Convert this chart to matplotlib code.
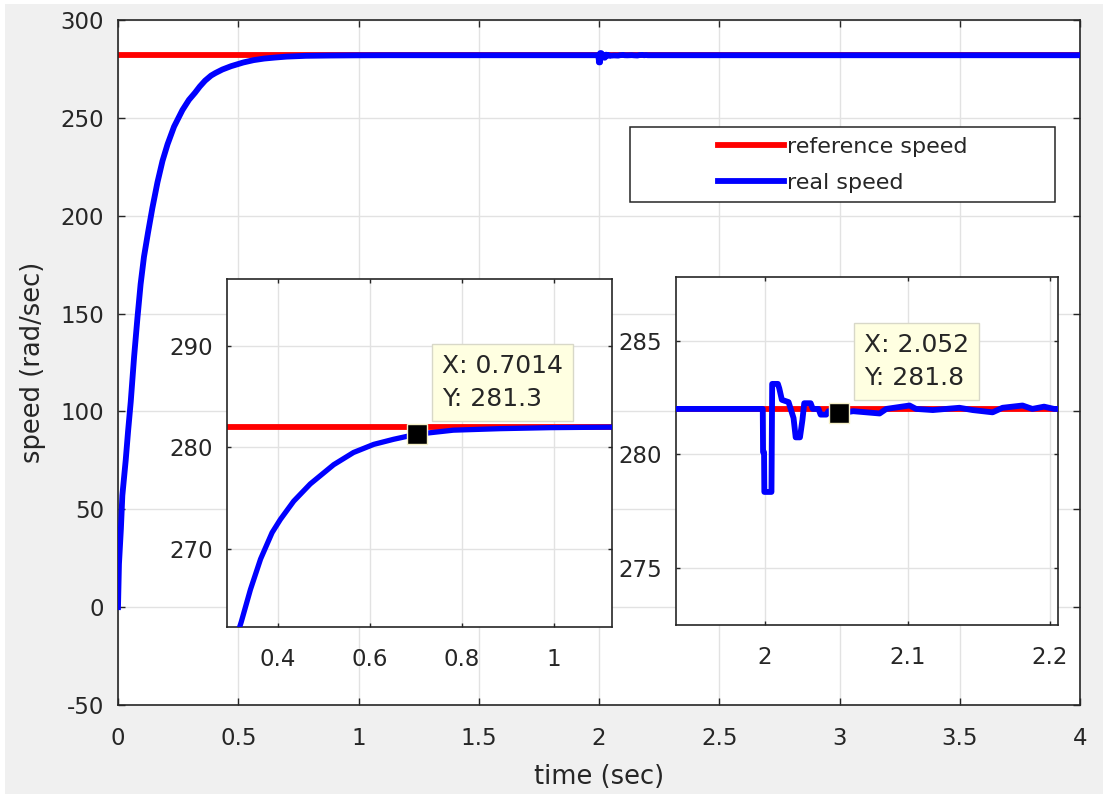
import matplotlib
matplotlib.use("Agg")
import matplotlib.pyplot as plt
from matplotlib.patches import Rectangle
from matplotlib.ticker import FuncFormatter

plt.rcParams["font.family"] = ["DejaVu Sans"]
plt.rcParams["axes.unicode_minus"] = False

# Speed command (rad/sec)
ref_time = [0.0, 4.0]
ref_speed = [282.0, 282.0]

# Measured rotor speed (rad/sec): start-up, steady state, load step at t = 2 s
real_time = [
    0.000, 0.004, 0.012, 0.018, 0.032, 0.042, 0.053, 0.067, 0.081, 0.094,
    0.108, 0.125, 0.143, 0.164, 0.185, 0.206, 0.233, 0.268, 0.295,
    0.320, 0.340, 0.362, 0.387, 0.405, 0.434, 0.470, 0.521, 0.564, 0.608,
    0.651, 0.7014, 0.781, 0.883, 0.992, 1.122,
    1.300, 1.500, 1.700, 1.900, 1.9984,
    1.9986, 1.9993, 1.9995, 2.0045, 2.0050, 2.0090, 2.0100, 2.0118, 2.0165,
    2.0180, 2.0200, 2.0215, 2.0245, 2.0262, 2.0275, 2.0320, 2.0335, 2.0375,
    2.0390, 2.0430, 2.0445, 2.052, 2.0618, 2.0804, 2.0851, 2.1014, 2.1060,
    2.1177, 2.1364, 2.1457, 2.1597, 2.1667, 2.1807, 2.1876, 2.1958, 2.2028,
    2.500, 3.000, 3.500, 4.000,
]
real_speed = [
    0.0, 22.0, 40.0, 57.0, 75.0, 90.0, 105.0, 128.0, 148.0, 165.0,
    179.0, 191.5, 204.0, 217.0, 228.0, 236.5, 245.5, 254.0, 259.2,
    262.8, 266.0, 269.0, 271.6, 272.9, 274.7, 276.4, 278.3, 279.5, 280.3,
    280.8, 281.3, 281.7, 281.85, 281.95, 282.0,
    282.0, 282.0, 282.0, 282.0, 282.0,
    280.1, 280.1, 278.35, 278.35, 283.1, 283.1, 282.9, 282.4, 282.3,
    282.0, 281.6, 280.75, 280.75, 281.5, 282.25, 282.25, 282.0, 282.0,
    281.75, 281.75, 281.9, 281.8, 281.9, 281.8, 282.0, 282.15, 282.0,
    281.95, 282.05, 281.95, 281.85, 282.05, 282.15, 282.0, 282.1, 282.0,
    282.0, 282.0, 282.0, 282.0,
]

# Data-cursor readouts
tip_time = [0.7014, 2.052]
tip_speed = [281.3, 281.8]

main_xticks = [0, 0.5, 1, 1.5, 2, 2.5, 3, 3.5, 4]
main_yticks = [-50, 0, 50, 100, 150, 200, 250, 300]
zoom1_xticks = [0.4, 0.6, 0.8, 1.0]
zoom1_yticks = [270, 280, 290]
zoom2_xticks = [2.0, 2.1, 2.2]
zoom2_yticks = [275, 280, 285]

TXT = "#262626"
GRID = "#e2e2e2"
RED = "#ff0000"
BLUE = "#0000ff"
TIP_FACE = "#ffffe1"

W, H = 1103, 794
fig = plt.figure(figsize=(W / 100, H / 100), dpi=100, facecolor="#f0f0f0")

# thin white strip along the top and left edge of the window
fig.patches.append(Rectangle((0, 1 - 4 / H), 1, 4 / H, transform=fig.transFigure,
                             facecolor="white", edgecolor="none", zorder=0))
fig.patches.append(Rectangle((0, 0), 5 / W, 1, transform=fig.transFigure,
                             facecolor="white", edgecolor="none", zorder=0))


def px_rect(x0, y0, x1, y1):
    return [x0 / W, (H - y1) / H, (x1 - x0) / W, (y1 - y0) / H]


def style_axes(ax, xticks, yticks, xlim, ylim, ticklen, xpad, ypad, fmt):
    ax.set_xlim(*xlim)
    ax.set_ylim(*ylim)
    ax.set_xticks(xticks)
    ax.set_yticks(yticks)
    ax.xaxis.set_major_formatter(FuncFormatter(fmt))
    ax.yaxis.set_major_formatter(FuncFormatter(fmt))
    ax.grid(True, color=GRID, linewidth=1.0)
    ax.set_axisbelow(True)
    ax.set_facecolor("white")
    for sp in ax.spines.values():
        sp.set_color(TXT)
        sp.set_linewidth(1.2)
    ax.tick_params(direction="in", top=True, right=True, length=ticklen,
                   width=1.0, color=TXT, labelcolor=TXT, labelsize=16.5)
    ax.tick_params(axis="x", pad=xpad)
    ax.tick_params(axis="y", pad=ypad)


gfmt = lambda v, pos: "%g" % v

# Main axes
ax = fig.add_axes(px_rect(118, 20, 1080, 705))
style_axes(ax, main_xticks, main_yticks, (0, 4), (-50, 300), 5, 16, 10, gfmt)
ref_line, = ax.plot(ref_time, ref_speed, color=RED, linewidth=4.2, zorder=2)
real_line, = ax.plot(real_time, real_speed, color=BLUE, linewidth=4.2, zorder=3)
ax.set_xlabel("time (sec)", fontsize=18.5, color=TXT, labelpad=10)
ax.set_ylabel("speed (rad/sec)", fontsize=18.5, color=TXT, labelpad=10)

# Legend with a centred, boxed layout
ax.add_patch(Rectangle((0.5322, 0.7343), 0.4418, 0.1095, transform=ax.transAxes,
                       facecolor="white", edgecolor=TXT, linewidth=1.1, zorder=4))
leg = ax.legend([ref_line, real_line], ["reference speed", "real speed"],
                loc="center", bbox_to_anchor=(0.7531, 0.789), frameon=False,
                handlelength=3.0, handletextpad=0.1, labelspacing=0.72,
                fontsize=16, borderpad=0.0)
leg.set_zorder(5)
for t in leg.get_texts():
    t.set_color(TXT)

# Zoom on the start-up transient
ax1 = fig.add_axes(px_rect(227, 279, 612, 627))
style_axes(ax1, zoom1_xticks, zoom1_yticks, (0.289, 1.126), (262.3, 296.6), 3, 15, 10, gfmt)
ax1.plot(ref_time, ref_speed, color=RED, linewidth=4.2, zorder=2)
ax1.plot(real_time, real_speed, color=BLUE, linewidth=3.8, zorder=3)

# Zoom on the load disturbance
ax2 = fig.add_axes(px_rect(676, 277, 1058, 625))
style_axes(ax2, zoom2_xticks, zoom2_yticks, (1.9375, 2.2056), (272.5, 287.8), 3, 15, 10, gfmt)
ax2.plot(ref_time, ref_speed, color=RED, linewidth=4.2, zorder=2)
ax2.plot(real_time, real_speed, color=BLUE, linewidth=4.2, zorder=3)

# Data cursors
for a, tx, ty in ((ax1, tip_time[0], tip_speed[0]), (ax2, tip_time[1], tip_speed[1])):
    a.plot([tx], [ty], marker="s", markersize=14, markerfacecolor="black",
           markeredgecolor="#f5f0c8", markeredgewidth=1.0, linestyle="none", zorder=6)
    a.annotate("X: %g\nY: %g" % (tx, ty), xy=(tx, ty), xytext=(25, 23),
               textcoords="offset pixels", ha="left", va="bottom", fontsize=18,
               linespacing=1.5, color=TXT, zorder=7,
               bbox=dict(boxstyle="square,pad=0.4", facecolor=TIP_FACE,
                         edgecolor="#d8d8c8", linewidth=1.0))

fig.savefig("out.png", dpi=100, facecolor=fig.get_facecolor())
